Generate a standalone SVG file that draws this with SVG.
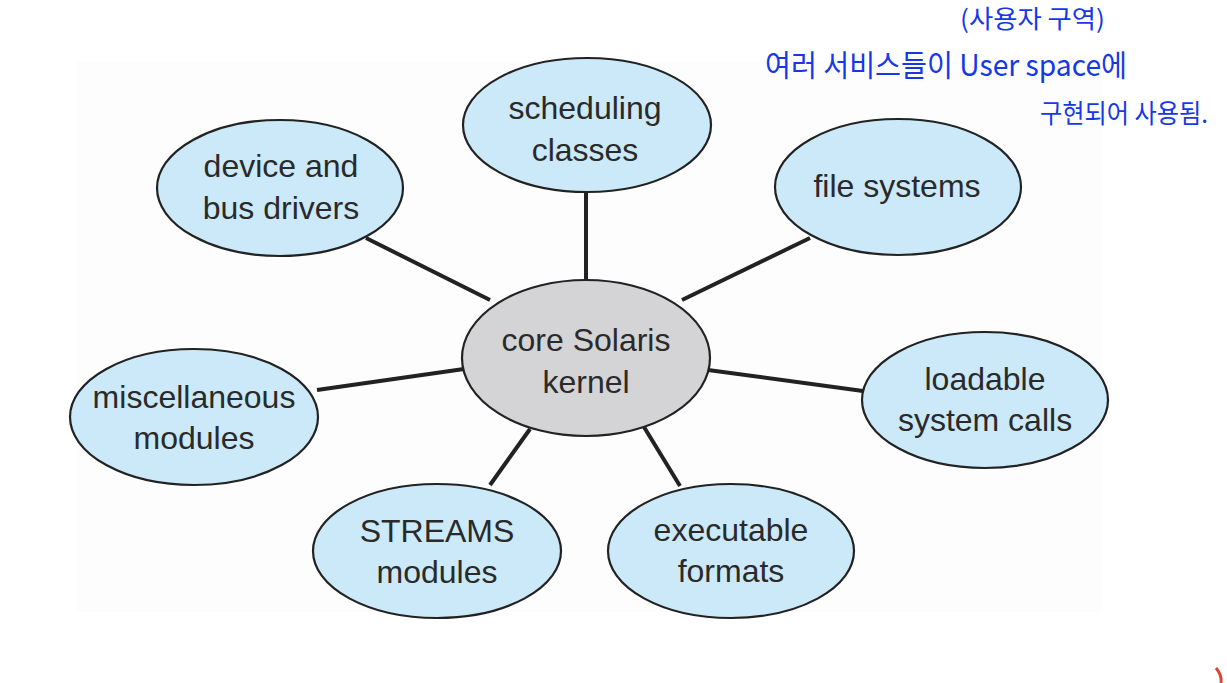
<svg xmlns="http://www.w3.org/2000/svg" width="1227" height="683" viewBox="0 0 1227 683">
<style>
.node ellipse{fill:#cbe9f8;stroke:#222;stroke-width:2.2}
.core ellipse{fill:#d4d4d6;stroke:#222;stroke-width:2.2}
.lbl{font-family:"Liberation Sans",Arial,sans-serif;font-size:32px;fill:#2a2a2a;text-anchor:middle}
.conn line{stroke:#222;stroke-width:4;stroke-linecap:butt}
.hand{font-family:"Noto Sans CJK KR","Noto Sans",sans-serif;fill:#1638e6}
</style>
<rect x="0" y="0" width="1227" height="683" fill="#ffffff"/>
<rect x="77" y="61" width="1025" height="551" fill="#fdfdfd"/>
<g id="connectors" class="conn">
<line x1="586" y1="192" x2="586" y2="282"/>
<line x1="366" y1="238" x2="490" y2="300"/>
<line x1="810" y1="238" x2="682" y2="300"/>
<line x1="317" y1="390" x2="464" y2="369"/>
<line x1="863" y1="391" x2="708" y2="370"/>
<line x1="490" y1="485" x2="530" y2="429"/>
<line x1="680" y1="486" x2="644" y2="427"/>
</g>
<g id="scheduling" class="node"><ellipse cx="587" cy="125" rx="124" ry="67"/><text class="lbl" x="585" y="119">scheduling</text><text class="lbl" x="585" y="161">classes</text></g>
<g id="device" class="node"><ellipse cx="280" cy="188" rx="123" ry="68"/><text class="lbl" x="281" y="177">device and</text><text class="lbl" x="281" y="219">bus drivers</text></g>
<g id="filesystems" class="node"><ellipse cx="898" cy="187" rx="123" ry="68"/><text class="lbl" x="897" y="197">file systems</text></g>
<g id="core" class="core"><ellipse cx="586" cy="358" rx="124" ry="78"/><text class="lbl" x="586" y="351">core Solaris</text><text class="lbl" x="586" y="393">kernel</text></g>
<g id="misc" class="node"><ellipse cx="194" cy="417" rx="124" ry="68"/><text class="lbl" x="194" y="408">miscellaneous</text><text class="lbl" x="194" y="449">modules</text></g>
<g id="loadable" class="node"><ellipse cx="985" cy="400" rx="123" ry="68"/><text class="lbl" x="985" y="390">loadable</text><text class="lbl" x="985" y="431">system calls</text></g>
<g id="streams" class="node"><ellipse cx="437" cy="551" rx="124" ry="67"/><text class="lbl" x="437" y="542">STREAMS</text><text class="lbl" x="437" y="583">modules</text></g>
<g id="executable" class="node"><ellipse cx="731" cy="551" rx="123" ry="67"/><text class="lbl" x="731" y="541">executable</text><text class="lbl" x="731" y="582">formats</text></g>
<g id="annotation">
<text class="hand" x="960" y="28" font-size="25" textLength="145" lengthAdjust="spacingAndGlyphs">(사용자 구역)</text>
<text class="hand" x="765" y="76" font-size="30" textLength="362" lengthAdjust="spacingAndGlyphs">여러 서비스들이 User space에</text>
<text class="hand" x="1040" y="123" font-size="26" textLength="168" lengthAdjust="spacingAndGlyphs">구현되어 사용됨.</text>
</g>
<path d="M1216 668 Q1222 675 1221 683" fill="none" stroke="#d9472f" stroke-width="3"/>
</svg>
